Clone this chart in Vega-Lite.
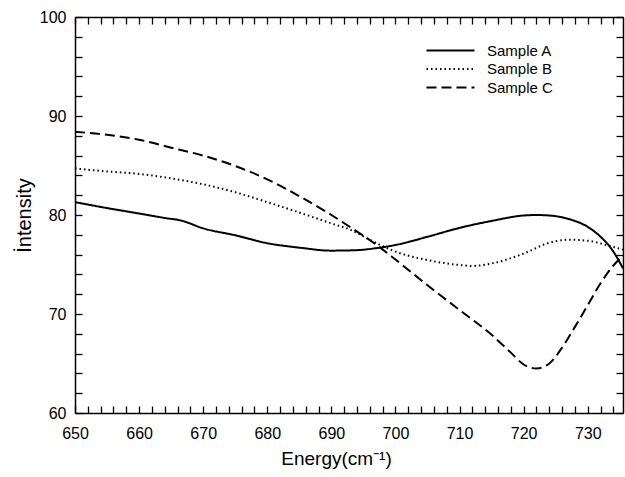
{
  "$schema": "https://vega.github.io/schema/vega-lite/v6.json",
  "width": 548,
  "height": 396,
  "autosize": {"type": "none"},
  "padding": {"left": 75, "top": 17, "right": 2, "bottom": 64},
  "background": "white",
  "config": {
    "font": "Liberation Sans",
    "view": {"stroke": null},
    "axis": {
      "grid": false,
      "ticks": true,
      "domainColor": "black",
      "domainWidth": 1.5,
      "tickColor": "black",
      "tickWidth": 1.3,
      "labelColor": "black",
      "labelFont": "Liberation Sans",
      "labelFontSize": 16,
      "titleFont": "Liberation Sans",
      "titleFontWeight": "normal",
      "titleColor": "black",
      "titleFontSize": 19
    }
  },
  "data": {
    "values": [
      {"s": "Sample A", "e": 650, "v": 81.3},
      {"s": "Sample A", "e": 655, "v": 80.7},
      {"s": "Sample A", "e": 660, "v": 80.15},
      {"s": "Sample A", "e": 664, "v": 79.7},
      {"s": "Sample A", "e": 666.5, "v": 79.45},
      {"s": "Sample A", "e": 670, "v": 78.65},
      {"s": "Sample A", "e": 675, "v": 77.95},
      {"s": "Sample A", "e": 680, "v": 77.15},
      {"s": "Sample A", "e": 685, "v": 76.7},
      {"s": "Sample A", "e": 690, "v": 76.4},
      {"s": "Sample A", "e": 694, "v": 76.45},
      {"s": "Sample A", "e": 697, "v": 76.65},
      {"s": "Sample A", "e": 700, "v": 76.97},
      {"s": "Sample A", "e": 705, "v": 77.8},
      {"s": "Sample A", "e": 710, "v": 78.7},
      {"s": "Sample A", "e": 715, "v": 79.4},
      {"s": "Sample A", "e": 720, "v": 79.95},
      {"s": "Sample A", "e": 722, "v": 80.0},
      {"s": "Sample A", "e": 724, "v": 79.95},
      {"s": "Sample A", "e": 727, "v": 79.6},
      {"s": "Sample A", "e": 730, "v": 78.8},
      {"s": "Sample A", "e": 732, "v": 77.8},
      {"s": "Sample A", "e": 734, "v": 76.3},
      {"s": "Sample A", "e": 735.5, "v": 74.6},
      {"s": "Sample B", "e": 650, "v": 84.7},
      {"s": "Sample B", "e": 655, "v": 84.4},
      {"s": "Sample B", "e": 660, "v": 84.15},
      {"s": "Sample B", "e": 665, "v": 83.7},
      {"s": "Sample B", "e": 670, "v": 83.1},
      {"s": "Sample B", "e": 675, "v": 82.3},
      {"s": "Sample B", "e": 680, "v": 81.3},
      {"s": "Sample B", "e": 685, "v": 80.25},
      {"s": "Sample B", "e": 690, "v": 79.15},
      {"s": "Sample B", "e": 693, "v": 78.5},
      {"s": "Sample B", "e": 696, "v": 77.5},
      {"s": "Sample B", "e": 698, "v": 76.85},
      {"s": "Sample B", "e": 700, "v": 76.3},
      {"s": "Sample B", "e": 705, "v": 75.45},
      {"s": "Sample B", "e": 710, "v": 74.95},
      {"s": "Sample B", "e": 712, "v": 74.85},
      {"s": "Sample B", "e": 715, "v": 75.1},
      {"s": "Sample B", "e": 720, "v": 76.1},
      {"s": "Sample B", "e": 724, "v": 77.2},
      {"s": "Sample B", "e": 727, "v": 77.5},
      {"s": "Sample B", "e": 730, "v": 77.4},
      {"s": "Sample B", "e": 733, "v": 76.95},
      {"s": "Sample B", "e": 735.5, "v": 76.5},
      {"s": "Sample C", "e": 650, "v": 88.4},
      {"s": "Sample C", "e": 655, "v": 88.1},
      {"s": "Sample C", "e": 660, "v": 87.6},
      {"s": "Sample C", "e": 665, "v": 86.8},
      {"s": "Sample C", "e": 670, "v": 86.0},
      {"s": "Sample C", "e": 675, "v": 84.95},
      {"s": "Sample C", "e": 680, "v": 83.6},
      {"s": "Sample C", "e": 685, "v": 81.9},
      {"s": "Sample C", "e": 690, "v": 80.0},
      {"s": "Sample C", "e": 693, "v": 78.75},
      {"s": "Sample C", "e": 697, "v": 77.0},
      {"s": "Sample C", "e": 700, "v": 75.5},
      {"s": "Sample C", "e": 705, "v": 72.9},
      {"s": "Sample C", "e": 710, "v": 70.4},
      {"s": "Sample C", "e": 715, "v": 67.9},
      {"s": "Sample C", "e": 718, "v": 66.1},
      {"s": "Sample C", "e": 720, "v": 64.9},
      {"s": "Sample C", "e": 722, "v": 64.5},
      {"s": "Sample C", "e": 724, "v": 65.0},
      {"s": "Sample C", "e": 726, "v": 66.6},
      {"s": "Sample C", "e": 728, "v": 68.7},
      {"s": "Sample C", "e": 730, "v": 70.9},
      {"s": "Sample C", "e": 732, "v": 73.1},
      {"s": "Sample C", "e": 734, "v": 74.9},
      {"s": "Sample C", "e": 735.5, "v": 75.9}
    ]
  },
  "resolve": {"axis": {"x": "independent", "y": "independent"}},
  "layer": [
    {
      "mark": {"type": "line", "color": "black", "strokeWidth": 2, "interpolate": "monotone"},
      "encoding": {
        "x": {
          "field": "e", "type": "quantitative",
          "scale": {"domain": [650, 735.5], "nice": false, "zero": false},
          "axis": {
            "orient": "bottom",
            "title": "Energy(cm⁻¹)",
            "titleX": 261,
            "titlePadding": 8,
            "tickCount": 43,
            "tickSize": -7,
            "labelExpr": "datum.value % 10 === 0 ? datum.label : ''",
            "labelPadding": 19,
            "labelFlush": false,
            "labelOverlap": false
          }
        },
        "y": {
          "field": "v", "type": "quantitative",
          "scale": {"domain": [60, 100], "nice": false, "zero": false},
          "axis": {
            "orient": "left",
            "title": "İntensity",
            "titleFontSize": 20,
            "titlePadding": 5,
            "tickCount": 20,
            "tickSize": -7,
            "labelExpr": "datum.value % 10 === 0 ? datum.label : ''",
            "labelPadding": 16,
            "labelFlush": false,
            "labelOverlap": false
          }
        },
        "strokeDash": {
          "field": "s", "type": "nominal",
          "scale": {"domain": ["Sample A", "Sample B", "Sample C"], "range": [[1, 0], [1.5, 3], [10, 5]]},
          "legend": {
            "title": null,
            "orient": "none",
            "legendX": 368,
            "legendY": 26,
            "symbolType": "M-4.8,0H4.8",
            "symbolSize": 100,
            "symbolStrokeColor": "black",
            "symbolStrokeWidth": 2,
            "labelFontSize": 15,
            "labelFont": "Liberation Sans",
            "labelColor": "black",
            "labelOffset": 29,
            "rowPadding": 2.5
          }
        }
      }
    },
    {
      "mark": {"type": "line", "strokeOpacity": 0, "interpolate": "monotone"},
      "encoding": {
        "detail": {"field": "s", "type": "nominal"},
        "x": {
          "field": "e", "type": "quantitative",
          "scale": {"domain": [650, 735.5], "nice": false, "zero": false},
          "axis": {
            "orient": "top",
            "title": null,
            "labels": false,
            "tickCount": 43,
            "tickSize": -7
          }
        },
        "y": {
          "field": "v", "type": "quantitative",
          "scale": {"domain": [60, 100], "nice": false, "zero": false},
          "axis": {
            "orient": "right",
            "title": null,
            "labels": false,
            "tickCount": 20,
            "tickSize": -7
          }
        }
      }
    }
  ]
}
